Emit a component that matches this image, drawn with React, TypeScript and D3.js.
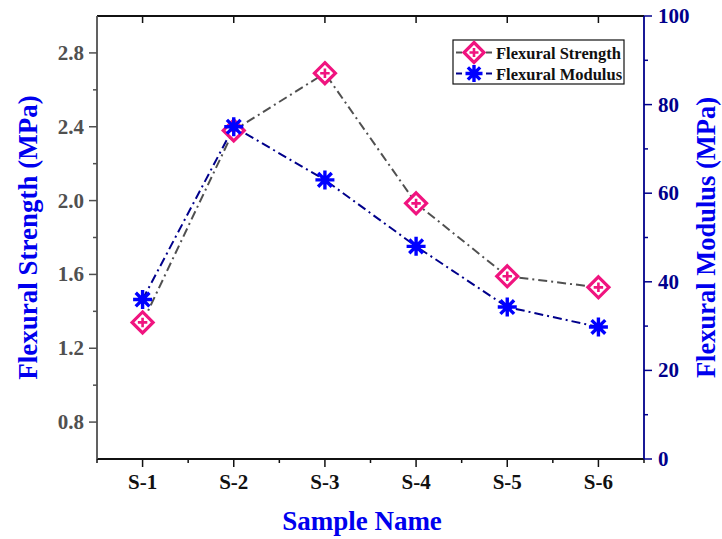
import React from "react";
import * as d3 from "d3";

const categories = ["S-1", "S-2", "S-3", "S-4", "S-5", "S-6"];
const strengthValues = [1.34, 2.38, 2.69, 1.985, 1.59, 1.53];
const modulusValues = [36, 75, 63, 48, 34.3, 29.8];
const leftTicks = [0.8, 1.2, 1.6, 2.0, 2.4, 2.8];
const leftMinor = [1.0, 1.4, 1.8, 2.2, 2.6];
const rightTicks = [0, 20, 40, 60, 80, 100];
const rightMinor = [10, 30, 50, 70, 90];

const W = 722, H = 539;
const L = 97, R = 644, T = 16, B = 459;
const FONT = "'Liberation Serif', 'Times New Roman', serif";

function Diamond({ x, y, s = 10.5 }: { x: number; y: number; s?: number }) {
  const c = "#F0147F";
  const a = s * 0.45;
  return (
    <g>
      <path d={`M${x},${y - s}L${x + s},${y}L${x},${y + s}L${x - s},${y}Z`} fill="white" stroke={c} strokeWidth={3.2} />
      <path d={`M${x - a},${y}L${x + a},${y}M${x},${y - a}L${x},${y + a}`} stroke={c} strokeWidth={2.6} />
    </g>
  );
}

function Star({ x, y, s = 9.5 }: { x: number; y: number; s?: number }) {
  const d = s * 0.72;
  return (
    <path
      d={`M${x},${y - s}L${x},${y + s}M${x - s},${y}L${x + s},${y}M${x - d},${y - d}L${x + d},${y + d}M${x - d},${y + d}L${x + d},${y - d}`}
      stroke="#0000FF"
      strokeWidth={3.4}
    />
  );
}

export default function App() {
  const x = d3.scaleLinear().domain([0.5, 6.5]).range([L, R]);
  const yL = d3.scaleLinear().domain([0.6, 3.0]).range([B, T]);
  const yR = d3.scaleLinear().domain([0, 100]).range([B, T]);

  const lineS = d3.line<number>().x((_, i) => x(i + 1)).y((v) => yL(v));
  const lineM = d3.line<number>().x((_, i) => x(i + 1)).y((v) => yR(v));
  const dash = "9,4,2,4";
  const gray = "#505050";
  const navy = "#00008B";

  const xMinor = d3.range(0.5, 7, 1);

  return (
    <svg width={W} height={H} style={{ position: "absolute", left: 0, top: 0, background: "white" }} fontFamily={FONT}>
      <rect width={W} height={H} fill="white" />
      {/* top & bottom axes */}
      <line x1={L} x2={R} y1={T} y2={T} stroke="#111" strokeWidth={1.8} />
      <line x1={L} x2={R} y1={B} y2={B} stroke="#111" strokeWidth={1.8} />
      {categories.map((c, i) => (
        <g key={c}>
          <line x1={x(i + 1)} x2={x(i + 1)} y1={B} y2={B + 8} stroke="#111" strokeWidth={1.5} />
          <line x1={x(i + 1)} x2={x(i + 1)} y1={T} y2={T + 7} stroke="#111" strokeWidth={1.5} />
          <text x={x(i + 1)} y={B + 30} textAnchor="middle" fontSize={21} fontWeight="bold" fill="#111">{c}</text>
        </g>
      ))}
      {xMinor.map((v) => (
        <line key={v} x1={x(v)} x2={x(v)} y1={B} y2={B + 4} stroke="#111" strokeWidth={1.5} />
      ))}
      {/* left axis */}
      <line x1={L} x2={L} y1={T} y2={B} stroke={gray} strokeWidth={1.8} />
      {leftTicks.map((v) => (
        <g key={v}>
          <line x1={L - 8} x2={L} y1={yL(v)} y2={yL(v)} stroke={gray} strokeWidth={1.5} />
          <text x={L - 13} y={yL(v) + 7} textAnchor="end" fontSize={21} fontWeight="bold" fill={gray}>{v.toFixed(1)}</text>
        </g>
      ))}
      {leftMinor.map((v) => (
        <line key={v} x1={L - 4} x2={L} y1={yL(v)} y2={yL(v)} stroke={gray} strokeWidth={1.5} />
      ))}
      {/* right axis */}
      <line x1={R} x2={R} y1={T} y2={B} stroke={navy} strokeWidth={1.8} />
      {rightTicks.map((v) => (
        <g key={v}>
          <line x1={R} x2={R + 8} y1={yR(v)} y2={yR(v)} stroke={navy} strokeWidth={1.5} />
          <text x={R + 14} y={yR(v) + 7} textAnchor="start" fontSize={21} fontWeight="bold" fill={navy}>{v}</text>
        </g>
      ))}
      {rightMinor.map((v) => (
        <line key={v} x1={R} x2={R + 4} y1={yR(v)} y2={yR(v)} stroke={navy} strokeWidth={1.5} />
      ))}
      {/* axis titles */}
      <text transform={`translate(37,${(T + B) / 2}) rotate(-90)`} textAnchor="middle" fontSize={27} fontWeight="bold" fill="#0000EE">Flexural Strength (MPa)</text>
      <text transform={`translate(715,${(T + B) / 2}) rotate(-90)`} textAnchor="middle" fontSize={26.5} fontWeight="bold" fill="#0000EE">Flexural Modulus (MPa)</text>
      <text x={362} y={530} textAnchor="middle" fontSize={27} fontWeight="bold" fill="#0000EE">Sample Name</text>
      {/* lines */}
      <path d={lineS(strengthValues) || ""} fill="none" stroke={gray} strokeWidth={2} strokeDasharray={dash} />
      <path d={lineM(modulusValues) || ""} fill="none" stroke={navy} strokeWidth={2} strokeDasharray={dash} />
      {strengthValues.map((v, i) => (
        <Diamond key={"d" + i} x={x(i + 1)} y={yL(v)} />
      ))}
      {modulusValues.map((v, i) => (
        <Star key={"s" + i} x={x(i + 1)} y={yR(v)} />
      ))}
      {/* legend */}
      <rect x={453} y={40} width={171} height={44} fill="white" stroke="#111" strokeWidth={1.2} />
      <line x1={456} x2={493} y1={52.5} y2={52.5} stroke={gray} strokeWidth={2} strokeDasharray="6,4" />
      <Diamond x={474} y={52.5} s={10} />
      <text x={496} y={58.5} fontSize={16.5} fontWeight="bold" fill="#111">Flexural Strength</text>
      <line x1={456} x2={493} y1={73.5} y2={73.5} stroke={navy} strokeWidth={2} strokeDasharray="6,4" />
      <Star x={474} y={73.5} s={8.5} />
      <text x={496} y={79.5} fontSize={16.5} fontWeight="bold" fill="#111">Flexural Modulus</text>
    </svg>
  );
}
